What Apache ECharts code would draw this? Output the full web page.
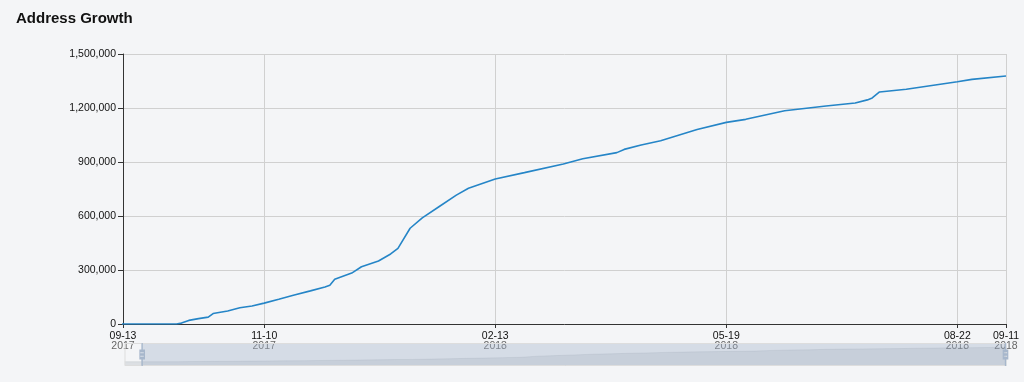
<!DOCTYPE html>
<html>
<head>
<meta charset="utf-8">
<script src="https://cdn.jsdelivr.net/npm/echarts@6/dist/echarts.min.js"></script>
<style>
html,body{margin:0;padding:0;background:#f4f5f7;}
#chart{width:1024px;height:382px;}
</style>
</head>
<body>
<div id="chart"></div>
<script>
const dates = [
  '2017-09-06','2017-09-13','2017-10-05','2017-10-07','2017-10-10','2017-10-14','2017-10-18','2017-10-20',
  '2017-10-26','2017-10-31','2017-11-05','2017-11-10','2017-11-16','2017-11-22','2017-11-29','2017-12-05',
  '2017-12-07','2017-12-09','2017-12-16','2017-12-20','2017-12-27','2018-01-01','2018-01-04','2018-01-09',
  '2018-01-14','2018-01-21','2018-01-28','2018-02-02','2018-02-13','2018-02-25','2018-03-13','2018-03-21',
  '2018-04-04','2018-04-07','2018-04-14','2018-04-22','2018-05-07','2018-05-19','2018-05-27','2018-06-12',
  '2018-06-29','2018-07-11','2018-07-16','2018-07-18','2018-07-21','2018-08-01','2018-08-15','2018-08-22',
  '2018-08-28','2018-09-11'
];
const addresses = [
  0,0,0,5000,20000,30000,38000,58000,
  72000,90000,100000,116000,137000,160000,184000,205000,
  215000,248000,283000,318000,350000,389000,420000,532000,
  590000,653000,716000,754000,806000,841000,889000,918000,
  952000,970000,994000,1018000,1081000,1120000,1137000,1185000,
  1211000,1228000,1245000,1256000,1289000,1304000,1332000,1346000,
  1359000,1378000
];
const viewStart = '2017-09-13';
const viewEnd = '2018-09-11';
const yTicks = { min: 0, max: 1500000, interval: 300000 };

const DAY = 86400000;
const TICK_DAYS = 95; // x unit: one 95-day tick step
function toX(s) {
  const p = s.split('-').map(Number);
  return Date.UTC(p[0], p[1] - 1, p[2]) / DAY / TICK_DAYS;
}
function pad(n) { return (n < 10 ? '0' : '') + n; }
function fmtX(v) {
  const t = new Date(Math.round(v * TICK_DAYS) * DAY);
  return '{a|' + pad(t.getUTCMonth() + 1) + '-' + pad(t.getUTCDate()) + '}\n{b|' + t.getUTCFullYear() + '}';
}

const seriesData = dates.map((d, i) => [toX(d), addresses[i]]);
const FONT = 'Liberation Sans, Arial, sans-serif';

const chart = echarts.init(document.getElementById('chart'), null, { renderer: 'canvas' });
chart.setOption({
  animation: false,
  backgroundColor: '#f4f5f7',
  textStyle: { fontFamily: FONT },
  title: {
    text: 'Address Growth',
    left: 11, top: 6,
    textStyle: { fontSize: 15, fontWeight: 'bold', color: '#111', fontFamily: FONT }
  },
  grid: { left: 123, right: 18, top: 54, bottom: 58, containLabel: false },
  xAxis: {
    type: 'value',
    scale: true,
    max: toX(viewEnd),
    minInterval: 1,
    maxInterval: 1,
    axisLine: { show: true, lineStyle: { color: '#333', width: 1 } },
    axisTick: { show: true, length: 4, lineStyle: { color: '#333' } },
    splitLine: { show: true, lineStyle: { color: '#d0d0d0', width: 1 } },
    axisLabel: {
      showMinLabel: true, showMaxLabel: true, hideOverlap: false,
      margin: 7,
      formatter: fmtX,
      rich: {
        a: { fontSize: 10.5, color: '#111', lineHeight: 10, fontFamily: FONT },
        b: { fontSize: 10.5, color: '#666', lineHeight: 10, fontFamily: FONT }
      }
    }
  },
  yAxis: {
    type: 'value',
    min: yTicks.min, max: yTicks.max, interval: yTicks.interval,
    axisLine: { show: true, lineStyle: { color: '#333', width: 1 } },
    axisTick: { show: true, length: 5, lineStyle: { color: '#333' } },
    splitLine: { show: true, lineStyle: { color: '#d0d0d0', width: 1 } },
    axisLabel: { fontSize: 10.5, color: '#111', margin: 7, fontFamily: FONT }
  },
  dataZoom: [{
    type: 'slider',
    xAxisIndex: 0,
    startValue: toX(viewStart),
    endValue: toX(viewEnd),
    filterMode: 'none',
    left: 122, right: 20, top: 343, height: 23,
    showDetail: false,
    brushSelect: false,
    moveHandleSize: 0,
    backgroundColor: 'rgba(47,69,84,0)',
    borderColor: '#ddd',
    fillerColor: 'rgba(167,183,204,0.4)',
    dataBackground: {
      lineStyle: { color: '#2f4554', width: 0.5, opacity: 0.2 },
      areaStyle: { color: 'rgba(47,69,84,0.12)', opacity: 1 }
    },
    selectedDataBackground: {
      lineStyle: { color: '#2f4554', width: 0.5, opacity: 0.2 },
      areaStyle: { color: 'rgba(47,69,84,0.12)', opacity: 1 }
    },
    handleIcon: 'M8.2,13.6V3.9H6.3v9.7H3.1v14.9h3.3v9.7h1.8v-9.7h3.3V13.6H8.2z M9.7,24.4H4.8v-1.4h4.9V24.4z M9.7,19.1H4.8v-1.4h4.9V19.1z',
    handleSize: '100%',
    handleStyle: { color: '#a7b7cc', borderColor: '#a7b7cc', borderWidth: 0, shadowBlur: 0, shadowColor: 'transparent' },
    emphasis: { handleStyle: { color: '#a7b7cc', borderColor: '#a7b7cc' } }
  }],
  series: [{
    type: 'line',
    data: seriesData,
    showSymbol: false,
    symbol: 'none',
    clip: true,
    lineStyle: { color: '#2585c7', width: 1.6 },
    itemStyle: { color: '#2585c7' }
  }]
});
</script>
</body>
</html>
